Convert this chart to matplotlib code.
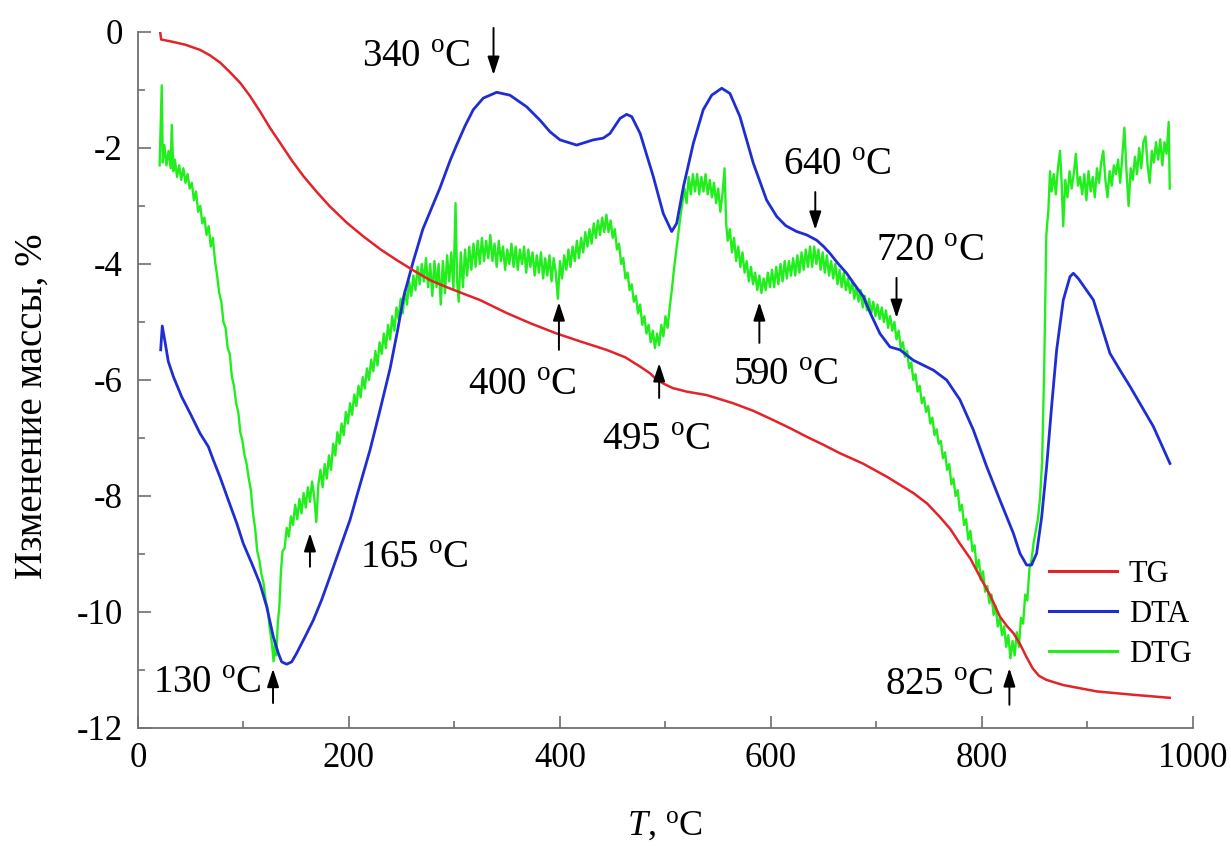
import matplotlib
matplotlib.use('Agg')
import matplotlib.pyplot as plt
from matplotlib.ticker import MultipleLocator

plt.rcParams['font.family'] = ['Liberation Serif', 'DejaVu Serif']
plt.rcParams['mathtext.fontset'] = 'custom'
plt.rcParams['mathtext.rm'] = 'Liberation Serif'
plt.rcParams['mathtext.it'] = 'Liberation Serif:italic'
plt.rcParams['axes.unicode_minus'] = False

# TG - mass change, %
tg_temp = [21, 22, 33, 45, 59, 68, 78, 87, 97, 106, 116, 125, 135, 146, 157, 170, 182, 198,
           214, 230, 245, 261, 277, 294, 311, 324, 350, 373, 397, 420, 444, 462, 476, 485,
           492, 500, 507, 520, 539, 564, 583, 602, 618, 634, 650, 665, 687, 710, 735, 748,
           760, 770, 779, 789, 798, 808, 817, 824, 830, 836, 842, 848, 854, 861, 877, 909,
           945, 978]
tg_mass = [0.0, -0.13, -0.17, -0.22, -0.31, -0.40, -0.53, -0.69, -0.88, -1.10, -1.38, -1.65,
           -1.92, -2.22, -2.49, -2.77, -3.01, -3.29, -3.53, -3.75, -3.93, -4.11, -4.28, -4.41,
           -4.53, -4.62, -4.85, -5.03, -5.20, -5.34, -5.48, -5.61, -5.77, -5.88, -6.00, -6.08,
           -6.14, -6.20, -6.26, -6.40, -6.53, -6.69, -6.83, -6.98, -7.12, -7.26, -7.44, -7.67,
           -7.95, -8.13, -8.36, -8.57, -8.82, -9.08, -9.39, -9.72, -10.08, -10.25, -10.37,
           -10.55, -10.77, -10.97, -11.10, -11.17, -11.26, -11.37, -11.43, -11.48]

# DTA
dta_temp = [21.5, 23, 25.6, 28.7, 33.5, 41.4, 49.3, 58.8, 66.7, 71.4, 77.7, 85.6, 93.6, 99.8,
            107.8, 115.6, 122, 128.3, 133, 136.2, 141, 145.7, 150.4, 158.3, 166.2, 174.1, 182,
            191.5, 201, 210.4, 219.9, 229, 239, 246, 252, 261, 270, 278, 286, 296, 302, 310,
            317.8, 327.3, 340, 352.6, 368.4, 381, 390.5, 400, 415.8, 431.6, 441, 447.4, 456.9,
            463.2, 468, 476, 488.4, 497.9, 505.9, 510.6, 517, 526.4, 535.8, 543.8, 553.3,
            561.1, 570.6, 583.2, 595.9, 605.4, 614, 624.3, 634, 643.3, 650, 656, 663, 671.7,
            679, 687.5, 695, 703.3, 712.8, 722.3, 734.9, 753.9, 766.5, 779.1, 791.8, 804.4,
            817, 829.7, 836, 842.3, 847, 851.8, 856.6, 861.3, 866, 870.8, 877.1, 883.4, 886.6,
            891.3, 905.6, 921.3, 930.8, 940.3, 962.4, 978.2]
dta_val = [-5.48, -5.07, -5.34, -5.68, -5.94, -6.29, -6.57, -6.92, -7.15, -7.38, -7.67,
           -8.07, -8.47, -8.82, -9.16, -9.51, -9.91, -10.43, -10.71, -10.86, -10.90, -10.86,
           -10.71, -10.43, -10.14, -9.79, -9.39, -8.90, -8.41, -7.81, -7.21, -6.55, -5.80,
           -5.15, -4.55, -3.95, -3.40, -3.05, -2.70, -2.21, -1.95, -1.62, -1.34, -1.14, -1.04,
           -1.09, -1.29, -1.52, -1.72, -1.86, -1.95, -1.86, -1.83, -1.75, -1.49, -1.42, -1.46,
           -1.75, -2.49, -3.13, -3.44, -3.30, -2.67, -1.92, -1.34, -1.09, -0.97, -1.06, -1.46,
           -2.26, -2.90, -3.18, -3.34, -3.44, -3.50, -3.59, -3.70, -3.82, -3.98, -4.16, -4.35,
           -4.56, -4.88, -5.20, -5.43, -5.48, -5.66, -5.83, -6.00, -6.34, -6.86, -7.49, -8.07,
           -8.64, -8.99, -9.19, -9.19, -8.99, -8.36, -7.49, -6.46, -5.48, -4.62, -4.22, -4.16,
           -4.25, -4.62, -5.54, -5.83, -6.11, -6.80, -7.44]

# DTG (noisy trace read point by point)
dtg_temp = [20.5, 22.5, 23.5, 25, 27, 29, 31, 32, 33.5, 35, 37, 39, 41, 43, 45, 47, 49, 51,
            53, 55, 57, 59, 61, 63, 65, 67, 69, 71, 73, 75, 77, 79, 81, 83, 85, 87, 89, 91,
            93, 95, 97, 99, 101, 103, 105, 107, 109, 111, 113, 115, 117, 119, 121, 123, 125,
            127, 128.5, 130, 131, 132.5, 134, 135.5, 137, 139, 141, 143, 145, 147, 149, 151,
            153, 155, 157, 159, 161, 163, 165, 167, 169, 171, 173, 175, 177, 179, 181, 183,
            185, 187, 189, 191, 193, 195, 197, 199, 201, 203, 205, 207, 209, 211, 213, 215,
            217, 219, 221, 223, 225, 227, 229, 231, 233, 235, 237, 239, 241, 243, 245, 247,
            249, 251, 253, 255, 257, 259, 261, 263, 265, 267, 269, 271, 273, 275, 277, 279,
            281, 283, 285, 287, 289, 291, 293, 295, 297, 299, 301, 302.5, 304, 306, 308, 310,
            312, 314, 316, 318, 320, 322, 324, 326, 328, 330, 332, 334, 336, 338, 340, 342,
            344, 346, 348, 350, 352, 354, 356, 358, 360, 362, 364, 366, 368, 370, 372, 374,
            376, 378, 380, 382, 384, 386, 388, 390, 392, 394, 396, 398, 400, 402, 404, 406,
            408, 410, 412, 414, 416, 418, 420, 422, 424, 426, 428, 430, 432, 434, 436, 438,
            440, 442, 444, 446, 448, 450, 452, 454, 456, 458, 460, 462, 464, 466, 468, 470,
            472, 474, 476, 478, 480, 482, 484, 486, 488, 490, 492, 494, 496, 498, 500, 502,
            504, 506, 508, 510, 512, 514, 516, 518, 520, 522, 524, 526, 528, 530, 532, 534,
            536, 538, 540, 542, 544, 546, 548, 550, 552, 554, 556, 557.5, 559, 561, 563, 565,
            567, 569, 571, 573, 575, 577, 579, 581, 583, 585, 587, 589, 591, 593, 595, 597,
            599, 601, 603, 605, 607, 609, 611, 613, 615, 617, 619, 621, 623, 625, 627, 629,
            631, 633, 635, 637, 639, 641, 643, 645, 647, 649, 651, 653, 655, 657, 659, 661,
            663, 665, 667, 669, 671, 673, 675, 677, 679, 681, 683, 685, 687, 689, 691, 693,
            695, 697, 699, 701, 703, 705, 707, 709, 711, 713, 715, 717, 719, 721, 723, 725,
            727, 729, 731, 733, 735, 737, 739, 741, 743, 745, 747, 749, 751, 753, 755, 757,
            759, 761, 763, 765, 767, 769, 771, 773, 775, 777, 779, 781, 783, 785, 787, 789,
            791, 793, 795, 797, 799, 801, 803, 805, 807, 809, 811, 813, 815, 817, 819, 821,
            823, 825, 827, 829, 831, 833, 835, 837, 839, 841, 843, 845, 847, 849, 851, 853,
            855, 857, 859, 861, 863, 864.5, 866, 868, 870, 872, 874, 875.5, 877, 879, 881,
            883, 885, 887, 889, 891, 893, 895, 897, 899, 901, 903, 905, 907, 909, 911, 913,
            915, 917, 919, 921, 923, 925, 927, 929, 931, 933, 935, 937, 939, 941, 943, 945,
            947, 949, 951, 953, 955, 957, 959, 961, 963, 965, 967, 969, 971, 973, 975, 977, 978]
dtg_val = [-2.30, -0.92, -2.25, -1.95, -2.30, -2.05, -2.35, -1.60, -2.40, -2.20, -2.50, -2.30,
           -2.55, -2.35, -2.60, -2.45, -2.70, -2.60, -2.90, -2.75, -3.10, -3.00, -3.30, -3.20,
           -3.50, -3.35, -3.70, -3.55, -3.95, -4.20, -4.50, -4.65, -5.00, -5.10, -5.45, -5.55,
           -5.95, -6.10, -6.40, -6.55, -6.90, -7.05, -7.30, -7.45, -7.70, -7.90, -8.30, -8.55,
           -8.95, -9.10, -9.35, -9.50, -9.80, -9.95, -10.30, -10.55, -10.85, -10.50, -10.75,
           -10.20, -9.90, -9.30, -8.95, -8.90, -8.55, -8.70, -8.35, -8.50, -8.15, -8.40, -8.05,
           -8.30, -7.95, -8.20, -7.85, -8.10, -7.75, -8.00, -8.45, -7.80, -7.55, -7.85, -7.45,
           -7.70, -7.30, -7.55, -7.10, -7.30, -6.90, -7.10, -6.75, -6.95, -6.55, -6.75, -6.40,
           -6.60, -6.25, -6.45, -6.10, -6.30, -5.95, -6.15, -5.80, -6.00, -5.65, -5.85, -5.50,
           -5.75, -5.35, -5.55, -5.20, -5.45, -5.05, -5.30, -4.90, -5.15, -4.75, -4.95, -4.60,
           -4.85, -4.45, -4.70, -4.30, -4.55, -4.20, -4.45, -4.05, -4.35, -4.00, -4.30, -3.90,
           -4.40, -4.00, -4.55, -3.95, -4.40, -4.00, -4.70, -3.95, -4.50, -3.85, -4.30, -3.80,
           -4.45, -2.95, -4.30, -4.65, -3.80, -4.40, -3.75, -4.20, -3.70, -4.10, -3.65, -4.05,
           -3.60, -4.00, -3.55, -3.95, -3.60, -3.90, -3.50, -3.95, -3.65, -4.05, -3.60, -3.95,
           -3.70, -4.10, -3.75, -4.00, -3.65, -4.05, -3.70, -4.10, -3.75, -4.00, -3.70, -4.15,
           -3.75, -4.05, -3.80, -4.20, -3.85, -4.15, -3.80, -4.25, -3.90, -4.20, -3.85, -4.30,
           -3.90, -4.15, -4.60, -3.95, -4.25, -3.85, -4.10, -3.75, -4.05, -3.70, -3.95, -3.60,
           -3.90, -3.55, -3.80, -3.45, -3.70, -3.40, -3.65, -3.30, -3.55, -3.25, -3.50, -3.20,
           -3.45, -3.15, -3.45, -3.25, -3.55, -3.40, -3.75, -3.65, -4.00, -3.90, -4.25, -4.15,
           -4.45, -4.35, -4.65, -4.55, -4.85, -4.70, -5.05, -4.90, -5.20, -5.05, -5.35, -5.15,
           -5.45, -5.20, -5.40, -5.05, -5.25, -4.90, -5.10, -4.75, -4.45, -4.10, -3.80, -3.50,
           -3.20, -2.95, -2.70, -2.95, -2.50, -2.80, -2.45, -2.75, -2.45, -2.80, -2.50, -2.75,
           -2.45, -2.80, -2.55, -2.85, -2.60, -2.95, -2.70, -3.10, -2.80, -2.35, -3.30, -3.60,
           -3.40, -3.80, -3.55, -3.95, -3.70, -4.05, -3.80, -4.15, -3.95, -4.30, -4.05, -4.35,
           -4.15, -4.45, -4.20, -4.50, -4.25, -4.45, -4.15, -4.40, -4.10, -4.40, -4.05, -4.35,
           -4.00, -4.30, -3.95, -4.25, -3.95, -4.20, -3.90, -4.20, -3.85, -4.15, -3.80, -4.10,
           -3.75, -4.05, -3.70, -4.05, -3.70, -4.00, -3.75, -4.10, -3.80, -4.15, -3.85, -4.20,
           -3.95, -4.25, -4.00, -4.35, -4.10, -4.40, -4.15, -4.45, -4.25, -4.50, -4.30, -4.60,
           -4.40, -4.65, -4.45, -4.75, -4.55, -4.80, -4.60, -4.85, -4.65, -4.90, -4.70, -4.95,
           -4.75, -5.00, -4.80, -5.10, -4.90, -5.15, -5.00, -5.30, -5.15, -5.45, -5.35, -5.60,
           -5.50, -5.80, -5.70, -6.00, -5.90, -6.20, -6.10, -6.40, -6.30, -6.55, -6.45, -6.75,
           -6.65, -6.95, -6.85, -7.10, -7.05, -7.35, -7.25, -7.55, -7.45, -7.80, -7.70, -8.00,
           -7.90, -8.25, -8.15, -8.50, -8.40, -8.75, -8.60, -8.95, -8.85, -9.25, -9.10, -9.45,
           -9.30, -9.65, -9.55, -9.85, -9.70, -10.05, -9.90, -10.25, -10.10, -10.40, -10.25,
           -10.60, -10.40, -10.80, -10.50, -10.75, -10.35, -10.60, -10.10, -10.20, -9.70, -9.80,
           -9.25, -9.10, -8.80, -8.60, -8.40, -8.05, -7.40, -5.80, -3.50, -3.05, -2.40, -2.75,
           -2.45, -2.80, -2.35, -2.05, -2.60, -3.35, -2.55, -2.85, -2.40, -2.70, -2.45, -2.10,
           -2.65, -2.50, -2.80, -2.45, -2.90, -2.40, -2.75, -2.50, -2.85, -2.35, -2.60, -2.25,
           -2.05, -2.55, -2.85, -2.40, -2.65, -2.30, -2.45, -2.20, -2.60, -2.15, -1.65, -2.40,
           -3.00, -2.35, -2.55, -2.15, -2.45, -2.00, -2.35, -1.90, -1.80, -2.30, -2.60, -2.05,
           -2.25, -1.90, -2.20, -1.85, -2.30, -1.90, -2.10, -1.55, -2.70]

# marked peaks: label, arrow x, arrow tail y, arrow head y, text left x, text baseline y
peak_labels = ['340', '640', '720', '400', '495', '590', '165', '130', '825']
arrow_x = [337, 642, 719, 399, 494, 589, 163, 128, 826]
arrow_tail = [0.07, -2.76, -4.24, -5.48, -6.31, -5.36, -9.22, -11.57, -11.60]
arrow_head = [-0.74, -3.41, -4.93, -4.66, -5.71, -4.66, -8.64, -10.98, -10.97]
text_x = [212, 611, 700, 313, 440, 564, 210, 14, 708]
text_y = [-0.60, -2.47, -3.95, -6.26, -7.21, -6.09, -9.24, -11.40, -11.43]

fig = plt.figure(figsize=(12.31, 8.46), dpi=100)
ax = fig.add_axes([0.1121, 0.1395, 0.8570, 0.8227])

l_dtg, = ax.plot(dtg_temp, dtg_val, color='#22ee1e', lw=1.7, label='DTG')
l_dta, = ax.plot(dta_temp, dta_val, color='#1e2ed2', lw=2.0, label='DTA')
l_tg, = ax.plot(tg_temp, tg_mass, color='#e2232a', lw=1.8, label='TG')

for lab, x, y0, y1, tx, ty in zip(peak_labels, arrow_x, arrow_tail, arrow_head, text_x, text_y):
    ax.annotate('', xy=(x, y1), xytext=(x, y0), annotation_clip=False,
                arrowprops=dict(arrowstyle='-|>,head_length=0.55,head_width=0.18',
                                mutation_scale=20, color='black', lw=1.4,
                                shrinkA=0, shrinkB=0))
    ax.text(tx, ty, lab + r' $^{\mathrm{o}}$C', fontsize=28, ha='left', va='baseline',
            clip_on=False)

ax.set_xlim(0, 1000)
ax.set_ylim(-12, 0)
ax.xaxis.set_major_locator(MultipleLocator(200))
ax.xaxis.set_minor_locator(MultipleLocator(100))
ax.yaxis.set_major_locator(MultipleLocator(2))
ax.yaxis.set_minor_locator(MultipleLocator(1))

for side in ['top', 'right']:
    ax.spines[side].set_visible(False)
for side in ['left', 'bottom']:
    ax.spines[side].set_color('#707070')
    ax.spines[side].set_linewidth(1.3)

ax.tick_params(which='both', direction='in', color='#707070', width=1.2, labelsize=25)
ax.tick_params(which='major', length=9)
ax.tick_params(which='minor', length=5)
ax.tick_params(axis='x', pad=10)
ax.tick_params(axis='y', pad=11)

ax.set_xlabel(r'$T$, $^{\mathrm{o}}$C', fontsize=26, va='center')
ax.xaxis.set_label_coords(0.5, -0.141)
ax.set_ylabel('Изменение массы, %', fontsize=28, va='center')
ax.yaxis.set_label_coords(-0.1005, 0.4626)

leg = ax.legend(handles=[l_tg, l_dta, l_dtg], loc='upper left',
                bbox_to_anchor=(0.864, 0.242), frameon=False, fontsize=22,
                handlelength=2.2, handletextpad=0.4, labelspacing=0.36,
                borderpad=0, borderaxespad=0)
for h in leg.get_lines():
    h.set_linewidth(2.2)

fig.savefig('out.png', dpi=100)
